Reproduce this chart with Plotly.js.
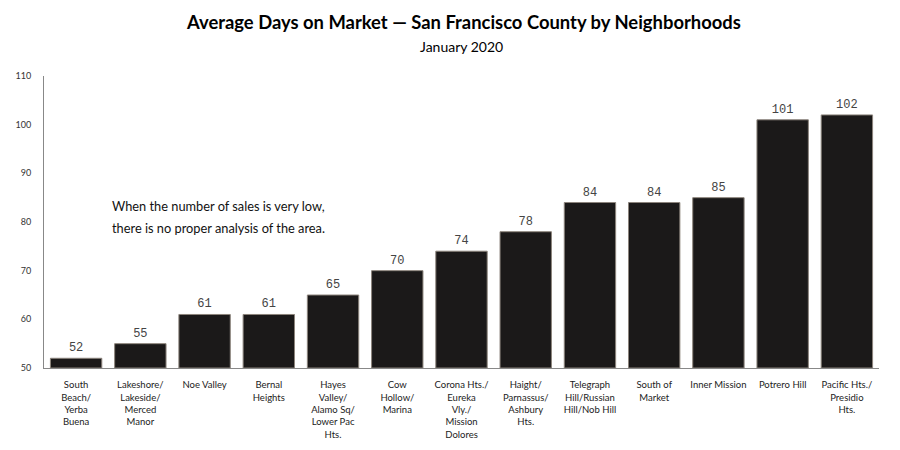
<!DOCTYPE html>
<html>
<head>
<meta charset="utf-8">
<script src="https://cdn.plot.ly/plotly-3.0.1.min.js"></script>
<style>html,body{margin:0;padding:0;background:#fff;}#chart{width:900px;height:450px;}</style>
</head>
<body>
<div id="chart"></div>
<script>
const neighborhoods = [
  "South<br>Beach/<br>Yerba<br>Buena",
  "Lakeshore/<br>Lakeside/<br>Merced<br>Manor",
  "Noe Valley",
  "Bernal<br>Heights",
  "Hayes<br>Valley/<br>Alamo Sq/<br>Lower Pac<br>Hts.",
  "Cow<br>Hollow/<br>Marina",
  "Corona Hts./<br>Eureka<br>Vly./<br>Mission<br>Dolores",
  "Haight/<br>Parnassus/<br>Ashbury<br>Hts.",
  "Telegraph<br>Hill/Russian<br>Hill/Nob Hill",
  "South of<br>Market",
  "Inner Mission",
  "Potrero Hill",
  "Pacific Hts./<br>Presidio<br>Hts."
];
const avgDays = [52, 55, 61, 61, 65, 70, 74, 78, 84, 84, 85, 101, 102];
const yBase = 50;
const yTicks = [50, 60, 70, 80, 90, 100, 110];
const titleText = "Average Days on Market — San Francisco County by Neighborhoods";
const subtitleText = "January 2020";
const noteLines = ["When the number of sales is very low,", "there is no proper analysis of the area."];

const trace = {
  type: "bar",
  x: neighborhoods,
  y: avgDays.map(v => v - yBase),
  base: yBase,
  marker: { color: "#1b1919", line: { color: "#8c847c", width: 1 } },
  text: avgDays.map(String),
  textposition: "outside",
  cliponaxis: false,
  textfont: { family: "Liberation Mono, DejaVu Sans Mono, monospace", size: 12, color: "#444" },
  hoverinfo: "none"
};

const ml = 44, mr = 21, mt = 76, mb = 82, W = 900, H = 450;
const ph = H - mt - mb, pw = W - ml - mr;
const py = px => (H - mb - px) / ph;   // pixel y -> paper
const pxx = px => (px - ml) / pw;      // pixel x -> paper

const layout = {
  width: W, height: H,
  margin: { l: ml, r: mr, t: mt, b: mb },
  paper_bgcolor: "#fff", plot_bgcolor: "#fff",
  bargap: 0.2,
  showlegend: false,
  font: { family: "Lato, sans-serif", color: "#222" },
  xaxis: {
    showline: true, linecolor: "#888", linewidth: 1,
    showgrid: false, zeroline: false,
    tickangle: 0,
    ticks: "outside", ticklen: 8, tickcolor: "rgba(0,0,0,0)",
    tickfont: { family: "Lato, sans-serif", size: 9.5, color: "#222" }
  },
  yaxis: {
    range: [50, 110],
    tickvals: yTicks,
    showline: true, linecolor: "#888", linewidth: 1,
    showgrid: false, zeroline: false,
    ticks: "outside", ticklen: 10, tickcolor: "rgba(0,0,0,0)",
    tickfont: { family: "Lato, sans-serif", size: 9, color: "#333" }
  },
  annotations: [
    { text: "<b>" + titleText + "</b>", xref: "paper", yref: "paper", x: pxx(463), y: py(22),
      xanchor: "center", yanchor: "middle", showarrow: false,
      font: { family: "Lato, sans-serif", size: 18.4, color: "#000" } },
    { text: subtitleText, xref: "paper", yref: "paper", x: pxx(461), y: py(47), xanchor: "center", yanchor: "middle", showarrow: false,
      font: { family: "Lato, sans-serif", size: 14, color: "#000" } },
    { text: noteLines[0], xref: "paper", yref: "paper", x: pxx(218), y: py(206), xanchor: "center", yanchor: "middle", showarrow: false,
      font: { family: "Lato, sans-serif", size: 12.8, color: "#111" } },
    { text: noteLines[1], xref: "paper", yref: "paper", x: pxx(218), y: py(228), xanchor: "center", yanchor: "middle", showarrow: false,
      font: { family: "Lato, sans-serif", size: 12.8, color: "#111" } }
  ]
};

Plotly.newPlot("chart", [trace], layout, { staticPlot: true });
</script>
</body>
</html>
